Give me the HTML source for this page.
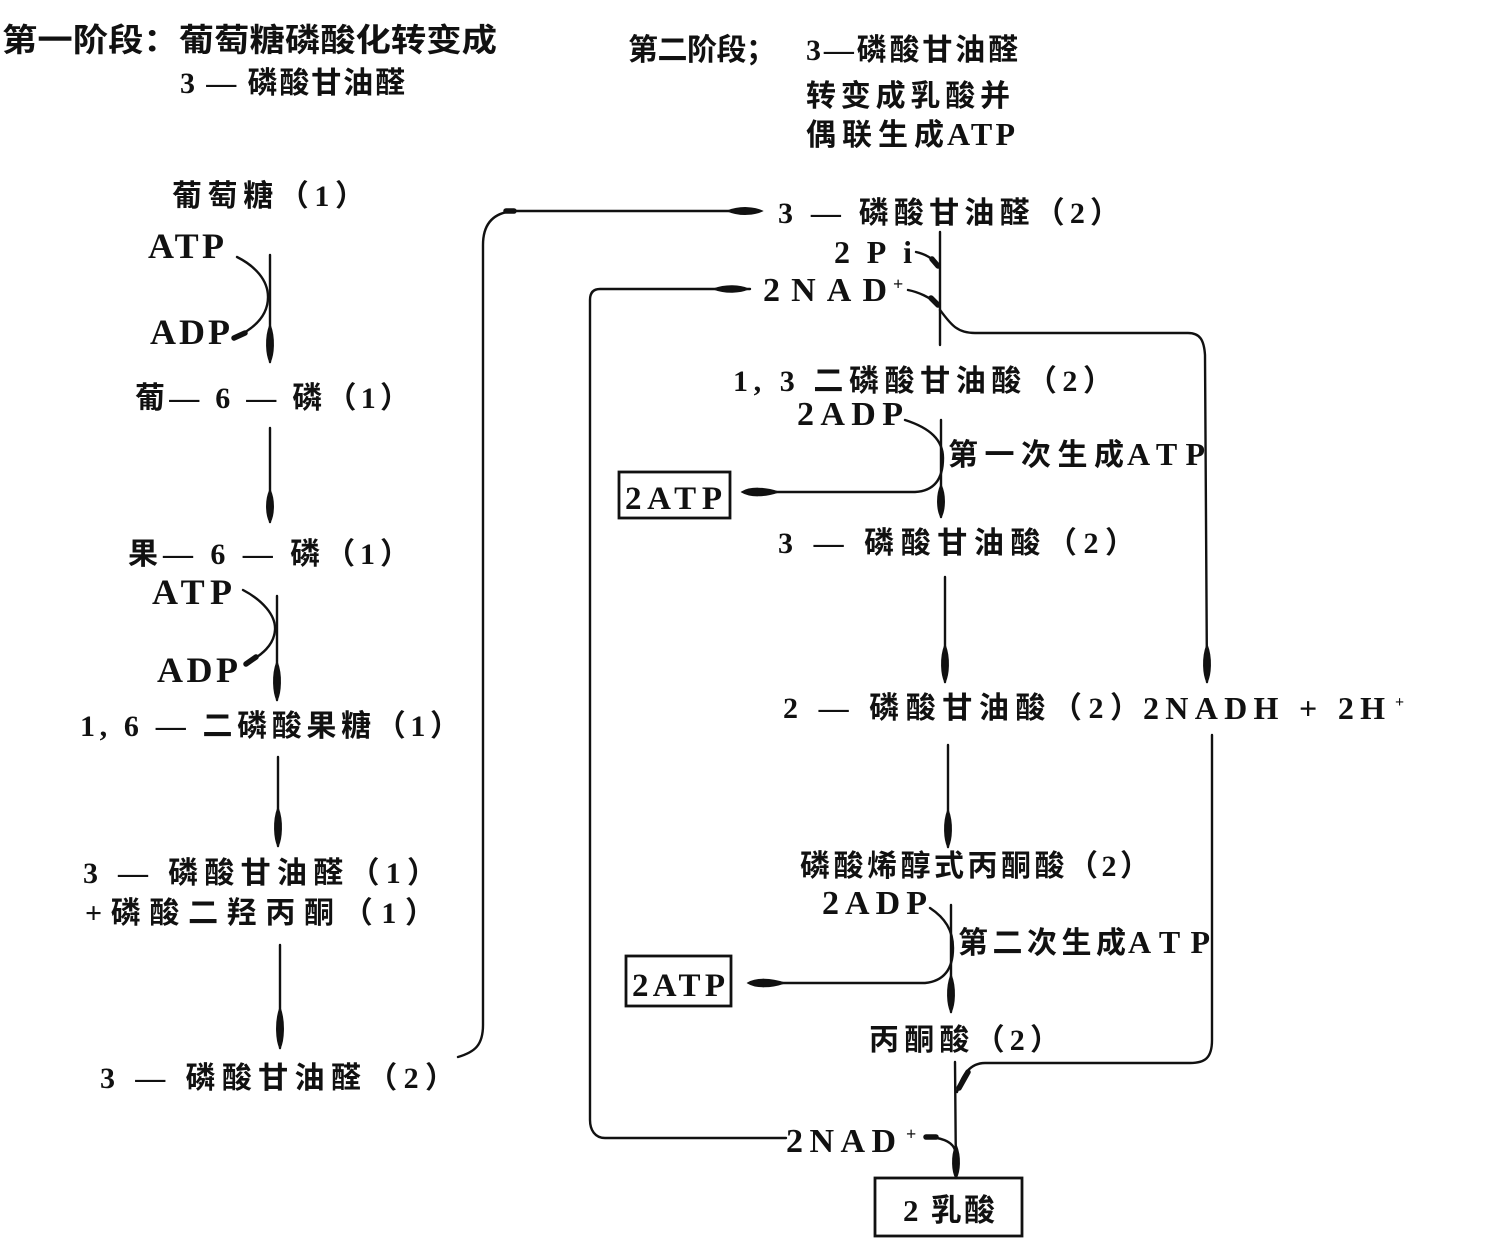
<!DOCTYPE html>
<html>
<head>
<meta charset="utf-8">
<style>
  html,body{margin:0;padding:0;background:#fff;}
  svg{display:block;}
  .c{font-family:"Liberation Serif","Noto Sans CJK SC",serif;font-weight:700;fill:#111;}
  .l{font-family:"Liberation Serif",serif;font-weight:700;fill:#111;}
  .ln{fill:none;stroke:#111;stroke-width:2.4;stroke-linecap:round;stroke-linejoin:round;}
  .th{fill:none;stroke:#111;stroke-width:5.5;stroke-linecap:round;}
  .ah{fill:#111;stroke:#111;stroke-width:1.5;}
  .bx{fill:none;stroke:#111;stroke-width:2.8;}
</style>
</head>
<body>
<svg width="1491" height="1238" viewBox="0 0 1491 1238" xmlns="http://www.w3.org/2000/svg">
  <rect width="1491" height="1238" fill="#fff"/>

  <!-- Headings -->
  <text class="c" x="2" y="51" font-size="32" textLength="495" lengthAdjust="spacingAndGlyphs">第一阶段：葡萄糖磷酸化转变成</text>
  <text class="c" x="180" y="93" font-size="30" textLength="225">3 — 磷酸甘油醛</text>

  <text class="c" x="628" y="60" font-size="30" textLength="148">第二阶段；</text>
  <text class="c" x="806" y="60" font-size="30" textLength="212">3—磷酸甘油醛</text>
  <text class="c" x="806" y="106" font-size="30" textLength="204">转变成乳酸并</text>
  <text class="c" x="806" y="145" font-size="30" textLength="138">偶联生成</text>
  <text class="l" x="947" y="145" font-size="32" textLength="68">ATP</text>

  <!-- Left column text -->
  <text class="c" x="172" y="206" font-size="30" textLength="193">葡萄糖（1）</text>
  <text class="l" x="148" y="258" font-size="36" textLength="76">ATP</text>
  <text class="l" x="150" y="344" font-size="36" textLength="80">ADP</text>
  <text class="c" x="135" y="408" font-size="30" textLength="275">葡— 6 — 磷（1）</text>
  <text class="c" x="128" y="564" font-size="30" textLength="282">果— 6 — 磷（1）</text>
  <text class="l" x="152" y="604" font-size="36" textLength="80">ATP</text>
  <text class="l" x="157" y="682" font-size="36" textLength="81">ADP</text>
  <text class="c" x="80" y="736" font-size="30" textLength="380">1, 6 — 二磷酸果糖（1）</text>
  <text class="c" x="83" y="883" font-size="30" textLength="354">3 — 磷酸甘油醛（1）</text>
  <text class="c" x="85" y="923" font-size="30" textLength="350">+磷酸二羟丙酮（1）</text>
  <text class="c" x="100" y="1088" font-size="30" textLength="355">3 — 磷酸甘油醛（2）</text>

  <!-- Right column text -->
  <text class="c" x="778" y="223" font-size="30" textLength="342">3 — 磷酸甘油醛（2）</text>
  <text class="l" x="834" y="263" font-size="32" textLength="78">2Pi</text>
  <text class="l" x="763" y="301" font-size="34" textLength="124">2NAD</text>
  <text class="l" x="893" y="290" font-size="18">+</text>
  <text class="c" x="733" y="391" font-size="30" textLength="380">1, 3 二磷酸甘油酸（2）</text>
  <text class="l" x="797" y="425" font-size="34" textLength="106">2ADP</text>
  <text class="c" x="948" y="465" font-size="30" textLength="176">第一次生成</text>
  <text class="l" x="1127" y="465" font-size="32" textLength="78">ATP</text>
  <rect class="bx" x="619" y="472" width="111" height="46"/>
  <text class="l" x="625" y="509" font-size="33" textLength="97">2ATP</text>
  <text class="c" x="778" y="553" font-size="30" textLength="357">3 — 磷酸甘油酸（2）</text>
  <text class="c" x="783" y="718" font-size="30" textLength="357">2 — 磷酸甘油酸（2）</text>
  <text class="l" x="1143" y="719" font-size="32" textLength="242">2NADH + 2H</text>
  <text class="l" x="1395" y="707" font-size="16">+</text>
  <text class="c" x="800" y="876" font-size="30" textLength="350">磷酸烯醇式丙酮酸（2）</text>
  <text class="l" x="822" y="914" font-size="34" textLength="105">2ADP</text>
  <text class="c" x="958" y="953" font-size="30" textLength="168">第二次生成</text>
  <text class="l" x="1128" y="953" font-size="32" textLength="82">ATP</text>
  <rect class="bx" x="626" y="956" width="105" height="50"/>
  <text class="l" x="632" y="996" font-size="33" textLength="93">2ATP</text>
  <text class="c" x="869" y="1050" font-size="30" textLength="191">丙酮酸（2）</text>
  <text class="l" x="786" y="1152" font-size="34" textLength="110">2NAD</text>
  <text class="l" x="906" y="1140" font-size="18">+</text>
  <rect class="bx" x="875" y="1178" width="147" height="58"/>
  <text class="c" x="903" y="1221" font-size="31" textLength="92">2 乳酸</text>

  <!-- Left column lines -->
  <path class="ln" d="M270,255 L270,362"/>
  <path class="ah" d="M270,325 C275,338 273.5,355 270,362 C266.5,355 265,338 270,325Z"/>
  <path class="ln" d="M237,257 C255,266 268,280 268,297 C268,315 255,328 236,337"/>
  <path class="th" d="M245,333 L234,338"/>

  <path class="ln" d="M270,428 L270,522"/>
  <path class="ah" d="M270,490 C275,501 273.5,516 270,522 C266.5,516 265,501 270,490Z"/>

  <path class="ln" d="M277,596 L277,700"/>
  <path class="ah" d="M277,662 C282,675 280.5,693 277,700 C273.5,693 272,675 277,662Z"/>
  <path class="ln" d="M243,590 C262,600 276,615 275,630 C274,645 262,655 247,663"/>
  <path class="th" d="M256,657 L246,664"/>

  <path class="ln" d="M278,757 L278,846"/>
  <path class="ah" d="M278,808 C283,821 281.5,839 278,846 C274.5,839 273,821 278,808Z"/>

  <path class="ln" d="M280,945 L280,1048"/>
  <path class="ah" d="M280,1008 C285,1022 283.5,1041 280,1048 C276.5,1041 275,1022 280,1008Z"/>

  <!-- Connector left bottom to right top -->
  <path class="ln" d="M458,1057 C475,1052 483,1045 483,1025 L483,245 C483,222 495,212 515,211 L760,211"/>
  <path class="th" d="M506,211 L514,211"/>
  <path class="ah" d="M728,211 C740,206 755,207.5 762,211 C755,214.5 740,216 728,211Z"/>

  <!-- NAD loop -->
  <path class="ln" d="M786,1138 L605,1138 C595,1138 590,1130 590,1120 L590,300 C590,292 594,289 600,289 L750,289"/>
  <path class="ah" d="M714,289 C726,284.5 740,285.5 748,289 C740,292.5 726,293.5 714,289Z"/>

  <!-- Right column main -->
  <path class="ln" d="M940,232 L940,345"/>
  <path class="ln" d="M916,252 C925,254 933,258 938,266"/>
  <path class="th" d="M932,259 L938,266"/>
  <path class="ln" d="M908,290 C918,292 930,297 938,305"/>
  <path class="th" d="M931,298 L938,305"/>

  <!-- branch to NADH -->
  <path class="ln" d="M940,310 C950,323 956,333 975,333 L1188,333 C1200,333 1204,340 1205,355 L1207,682"/>
  <path class="ah" d="M1207,645 C1212,658 1210.5,675 1207,682 C1203.5,675 1202,658 1207,645Z"/>

  <path class="ln" d="M941,420 L941,517"/>
  <path class="ah" d="M941,485 C946,496 944.5,511 941,517 C937.5,511 936,496 941,485Z"/>
  <path class="ln" d="M905,420 C930,428 943,440 943,458 C943,478 935,491 915,492 L745,492"/>
  <path class="ah" d="M742,492 C750,487 765,487.5 778,492 C765,496.5 750,497 742,492Z"/>

  <path class="ln" d="M945,577 L945,682"/>
  <path class="ah" d="M945,645 C950,658 948.5,675 945,682 C941.5,675 940,658 945,645Z"/>

  <path class="ln" d="M948,745 L948,847"/>
  <path class="ah" d="M948,810 C953,823 951.5,840 948,847 C944.5,840 943,823 948,810Z"/>

  <path class="ln" d="M951,905 L951,1012"/>
  <path class="ah" d="M951,975 C956,988 954.5,1005 951,1012 C947.5,1005 946,988 951,975Z"/>
  <path class="ln" d="M930,908 C945,918 953,930 953,948 C953,968 945,981 925,983 L750,983"/>
  <path class="ah" d="M748,983 C756,978 771,978.5 784,983 C771,987.5 756,988 748,983Z"/>

  <!-- NADH return -->
  <path class="ln" d="M1212,735 L1212,1040 C1212,1058 1205,1063 1190,1063 L985,1063 C970,1063 962,1075 957,1092"/>
  <path class="th" d="M968,1072 L959,1088"/>

  <path class="ln" d="M955,1062 L956,1178"/>
  <path class="ah" d="M956,1145 C961,1157 959.5,1172 956,1178 C952.5,1172 951,1157 956,1145Z"/>
  <path class="ln" d="M955,1150 C952,1141 940,1137 925,1137"/>
  <path class="th" d="M936,1137 L926,1137"/>
</svg>
</body>
</html>
